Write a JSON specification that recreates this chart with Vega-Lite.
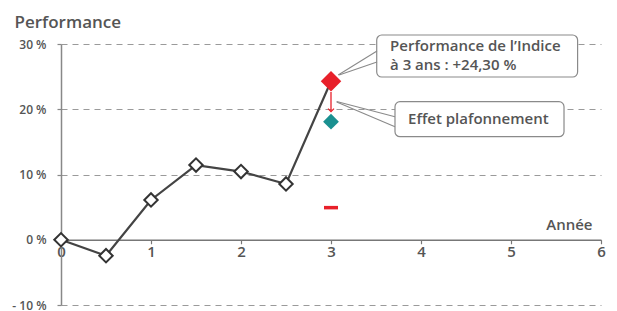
{
  "$schema": "https://vega.github.io/schema/vega-lite/v6.json",
  "width": 540,
  "height": 261,
  "autosize": {"type": "none"},
  "padding": {"left": 61, "top": 44, "right": 16, "bottom": 6},
  "config": {"font": "Open Sans", "view": {"stroke": null}, "background": "white"},
  "datasets": {
    "perf": [
      {"x": 0, "y": 0},
      {"x": 0.5, "y": -2.45},
      {"x": 1, "y": 6.1},
      {"x": 1.5, "y": 11.45},
      {"x": 2, "y": 10.45},
      {"x": 2.5, "y": 8.55},
      {"x": 3, "y": 24.3}
    ],
    "boxes": [
      {"x": 3.508, "x2": 5.74, "y": 24.94, "y2": 31.38},
      {"x": 3.711, "x2": 5.589, "y": 15.79, "y2": 21.16}
    ],
    "pointers": [
      {"x": 3.08, "y": 25.25, "x2": 3.511, "y2": 28.93},
      {"x": 3.09, "y": 25.25, "x2": 3.511, "y2": 27.24},
      {"x": 3.063, "y": 21.2, "x2": 3.711, "y2": 18.86},
      {"x": 3.063, "y": 21.1, "x2": 3.711, "y2": 17.33}
    ],
    "labels": [
      {"x": 3.656, "y": 28.9, "t": "Performance de l’Indice"},
      {"x": 3.656, "y": 25.95, "t": "à 3 ans : +24,30 %"},
      {"x": 3.856, "y": 17.74, "t": "Effet plafonnement"}
    ]
  },
  "encoding": {
    "x": {
      "field": "x", "type": "quantitative",
      "scale": {"domain": [0, 6], "nice": false, "zero": false},
      "axis": {
        "values": [0, 1, 2, 3, 4, 5, 6],
        "offset": -65.25,
        "grid": false,
        "domainColor": "#777", "domainWidth": 1.5,
        "tickColor": "#777", "tickSize": 4, "tickWidth": 1.2,
        "labelFontSize": 15, "labelColor": "#555", "labelPadding": 1, "labelFlush": false, "labelFontWeight": 600,
        "title": "Année", "titleX": 531, "titleY": -10, "titleAlign": "right",
        "titleBaseline": "alphabetic", "titleFontSize": 15, "titleFontWeight": 600, "titleColor": "#555"
      }
    },
    "y": {
      "field": "y", "type": "quantitative",
      "scale": {"domain": [-10, 30], "nice": false, "zero": false},
      "axis": {
        "values": [-10, 0, 10, 20, 30],
        "labelExpr": "datum.value < 0 ? '- ' + abs(datum.value) + ' %' : datum.value + ' %'",
        "grid": true, "gridDash": [6, 5], "gridColor": "#9a9a9a", "gridWidth": 1.2,
        "domainColor": "#888", "domainWidth": 1.5,
        "tickColor": "#888", "tickSize": 4, "tickWidth": 1.2,
        "labelFontSize": 12, "labelColor": "#555", "labelPadding": 11, "labelFontWeight": 600,
        "labelBaseline": "alphabetic", "labelOffset": 4,
        "title": "Performance", "titleAngle": 0, "titleAlign": "left", "titleBaseline": "alphabetic",
        "titleX": -47, "titleY": -17, "titleFontSize": 17, "titleFontWeight": 600, "titleColor": "#555"
      }
    }
  },
  "layer": [
    {
      "data": {"name": "boxes"},
      "mark": {"type": "rect", "fill": "white", "stroke": "#8a8a8a", "strokeWidth": 1.2, "cornerRadius": 5},
      "encoding": {"x2": {"field": "x2"}, "y2": {"field": "y2"}}
    },
    {
      "data": {"name": "pointers"},
      "mark": {"type": "rule", "stroke": "#8a8a8a", "strokeWidth": 1.1},
      "encoding": {"x2": {"field": "x2"}, "y2": {"field": "y2"}}
    },
    {
      "data": {"name": "perf"},
      "mark": {"type": "line", "stroke": "#444", "strokeWidth": 2.2}
    },
    {
      "data": {"name": "perf"},
      "transform": [{"filter": "datum.x < 3"}],
      "mark": {"type": "point", "shape": "diamond", "filled": true, "fill": "white", "stroke": "#333", "strokeWidth": 2, "size": 180, "opacity": 1}
    },
    {
      "data": {"name": "perf"},
      "transform": [{"filter": "datum.x == 3"}],
      "mark": {"type": "point", "shape": "diamond", "filled": true, "fill": "#e8202a", "size": 420, "opacity": 1}
    },
    {
      "data": {"values": [{"x": 3, "y": 18.1}]},
      "mark": {"type": "point", "shape": "diamond", "filled": true, "fill": "#1a9090", "size": 250, "opacity": 1}
    },
    {
      "data": {"values": [{"x": 3, "y": 22.66, "y2": 19.7}]},
      "mark": {"type": "rule", "stroke": "#e8202a", "strokeWidth": 1.3},
      "encoding": {"y2": {"field": "y2"}}
    },
    {
      "data": {"values": [{"x": 3, "y": 19.63}]},
      "mark": {"type": "point", "shape": "M-1,-1L0,0L1,-1", "filled": false, "stroke": "#e8202a", "strokeWidth": 1.3, "size": 36, "opacity": 1}
    },
    {
      "data": {"values": [{"x": 3, "y": 4.92}]},
      "mark": {"type": "tick", "orient": "horizontal", "color": "#e8202a", "size": 14, "thickness": 3.5, "opacity": 1}
    },
    {
      "data": {"name": "labels"},
      "mark": {"type": "text", "align": "left", "baseline": "alphabetic", "fontSize": 15, "fontWeight": 600, "fill": "#555"},
      "encoding": {"text": {"field": "t"}}
    }
  ]
}
